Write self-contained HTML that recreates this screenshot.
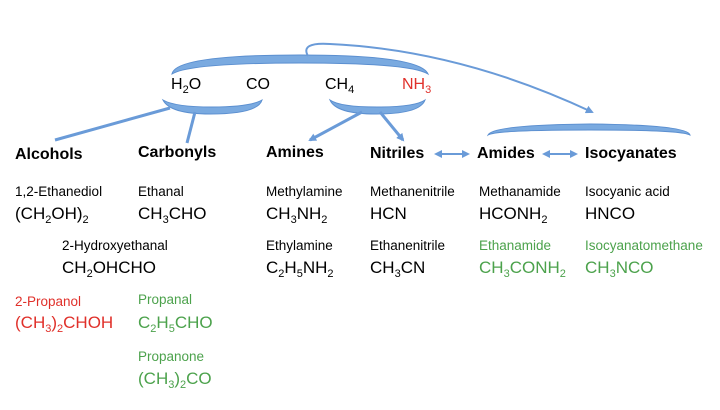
<!DOCTYPE html>
<html><head><style>
body{margin:0;width:720px;height:410px;background:#fff;position:relative;overflow:hidden;font-family:"Liberation Sans",sans-serif;}
.t{position:absolute;white-space:nowrap;line-height:1;}
.n{font-size:13.5px;}
.f{font-size:17px;}
.h{font-size:16px;font-weight:bold;}
.r{color:#e0302a}.g{color:#4ca24c}
sub{font-size:11px;vertical-align:-4px;line-height:0}
svg{position:absolute;left:0;top:0}
</style></head><body>
<svg width="720" height="410">
<defs><marker id="a" markerWidth="8" markerHeight="8" refX="6" refY="4" orient="auto" markerUnits="userSpaceOnUse"><path d="M0,0 L8,4 L0,8z" fill="#6a9bd8"/></marker>
<marker id="b" markerWidth="8" markerHeight="8" refX="2" refY="4" orient="auto-start-reverse" markerUnits="userSpaceOnUse"><path d="M0,0 L8,4 L0,8z" fill="#6a9bd8"/></marker></defs>
<g fill="#7aaae0" stroke="#5b8fd0" stroke-width="1">
<path d="M172,74 Q175,55 300,55 Q420,55 428,74 Q410,63 300,63 Q190,63 172,74z"/>
<path d="M163,100 Q170,114 210,114 Q258,114 262,100 Q250,107 212,107 Q175,107 163,100z"/>
<path d="M330,100 Q336,114 376,114 Q420,114 425,100 Q415,107 377,107 Q340,107 330,100z"/>
<path d="M488,135 Q492,125 590,124 Q688,125 690,135 Q680,130 590,130 Q495,130 488,135z"/>
</g>
<g stroke="#6a9bd8" stroke-width="3" fill="none">
<line x1="170" y1="108" x2="55" y2="140"/>
<line x1="195" y1="112" x2="187" y2="143"/>
<line x1="362" y1="112" x2="310" y2="140" marker-end="url(#a)"/>
<line x1="380" y1="112" x2="403" y2="140" marker-end="url(#a)"/>
<path d="M308,56 Q300,42 330,44 Q460,50 592,112" stroke-width="2" marker-end="url(#a)"/>
<line x1="440" y1="154" x2="468" y2="154" stroke-width="2" marker-start="url(#b)" marker-end="url(#a)"/>
<line x1="548" y1="154" x2="576" y2="154" stroke-width="2" marker-start="url(#b)" marker-end="url(#a)"/>
</g>
</svg>
<div class="t f" style="left:171px;top:77px;font-size:16px">H<sub>2</sub>O</div>
<div class="t f" style="left:246px;top:77px;font-size:16px">CO</div>
<div class="t f" style="left:325px;top:77px;font-size:16px">CH<sub>4</sub></div>
<div class="t f r" style="left:402px;top:77px;font-size:16px">NH<sub>3</sub></div>

<div class="t h" style="left:15px;top:147px">Alcohols</div>
<div class="t h" style="left:138px;top:145px">Carbonyls</div>
<div class="t h" style="left:266px;top:145px">Amines</div>
<div class="t h" style="left:370px;top:146px">Nitriles</div>
<div class="t h" style="left:477px;top:146px">Amides</div>
<div class="t h" style="left:585px;top:146px">Isocyanates</div>

<div class="t n" style="left:15px;top:185px">1,2-Ethanediol</div>
<div class="t f" style="left:15px;top:205px">(CH<sub>2</sub>OH)<sub>2</sub></div>
<div class="t n" style="left:138px;top:185px">Ethanal</div>
<div class="t f" style="left:138px;top:205px">CH<sub>3</sub>CHO</div>
<div class="t n" style="left:62px;top:239px">2-Hydroxyethanal</div>
<div class="t f" style="left:62px;top:259px">CH<sub>2</sub>OHCHO</div>
<div class="t n r" style="left:15px;top:295px">2-Propanol</div>
<div class="t f r" style="left:15px;top:314px">(CH<sub>3</sub>)<sub>2</sub>CHOH</div>
<div class="t n g" style="left:138px;top:293px">Propanal</div>
<div class="t f g" style="left:138px;top:314px">C<sub>2</sub>H<sub>5</sub>CHO</div>
<div class="t n g" style="left:138px;top:350px">Propanone</div>
<div class="t f g" style="left:138px;top:370px">(CH<sub>3</sub>)<sub>2</sub>CO</div>

<div class="t n" style="left:266px;top:185px">Methylamine</div>
<div class="t f" style="left:266px;top:205px">CH<sub>3</sub>NH<sub>2</sub></div>
<div class="t n" style="left:266px;top:239px">Ethylamine</div>
<div class="t f" style="left:266px;top:259px">C<sub>2</sub>H<sub>5</sub>NH<sub>2</sub></div>
<div class="t n" style="left:370px;top:185px">Methanenitrile</div>
<div class="t f" style="left:370px;top:205px">HCN</div>
<div class="t n" style="left:370px;top:239px">Ethanenitrile</div>
<div class="t f" style="left:370px;top:259px">CH<sub>3</sub>CN</div>
<div class="t n" style="left:479px;top:185px">Methanamide</div>
<div class="t f" style="left:479px;top:205px">HCONH<sub>2</sub></div>
<div class="t n g" style="left:479px;top:239px">Ethanamide</div>
<div class="t f g" style="left:479px;top:259px">CH<sub>3</sub>CONH<sub>2</sub></div>
<div class="t n" style="left:585px;top:185px">Isocyanic acid</div>
<div class="t f" style="left:585px;top:205px">HNCO</div>
<div class="t n g" style="left:585px;top:239px">Isocyanatomethane</div>
<div class="t f g" style="left:585px;top:259px">CH<sub>3</sub>NCO</div>
</body></html>
